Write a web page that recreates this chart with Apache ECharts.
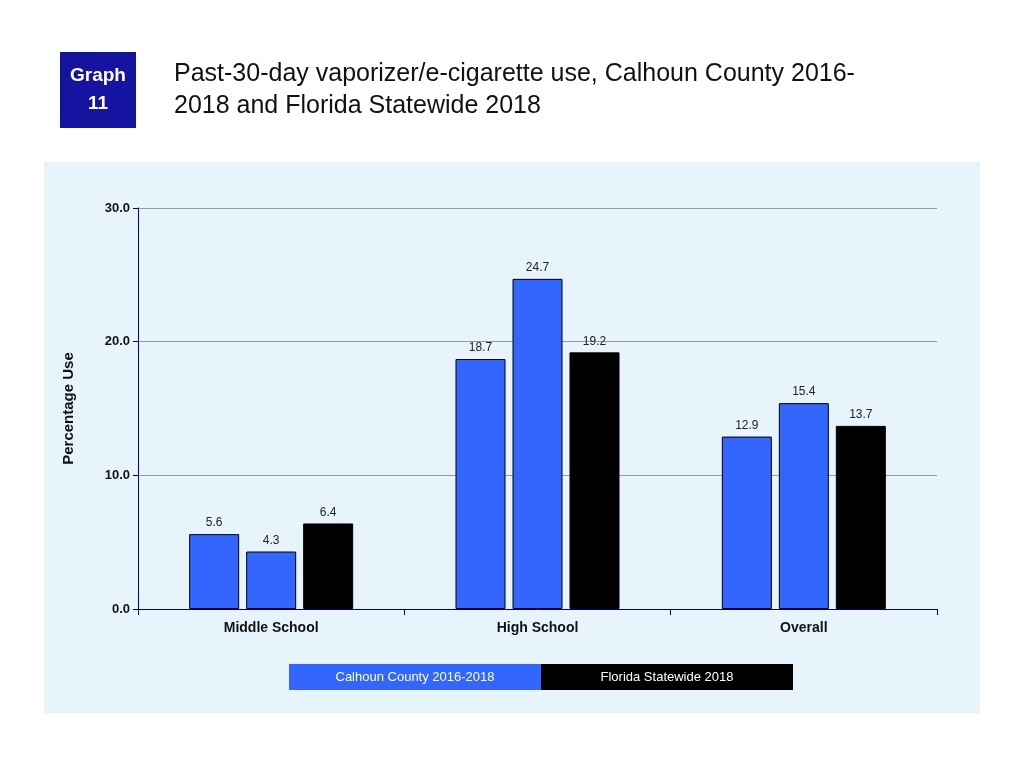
<!DOCTYPE html>
<html><head><meta charset="utf-8">
<script src="https://cdn.jsdelivr.net/npm/echarts@6/dist/echarts.min.js"></script>
<style>html,body{margin:0;padding:0;background:#fff}#c{width:1024px;height:768px}</style>
</head><body><div id="c"></div>
<script>
var categories = ['Middle School', 'High School', 'Overall'];
var calhoun2016 = [5.6, 18.7, 12.9];
var calhoun2018 = [4.3, 24.7, 15.4];
var florida2018 = [6.4, 19.2, 13.7];
var legendNames = ['Calhoun County 2016-2018', 'Florida Statewide 2018'];

var labelOpt = {show: true, position: 'top', color: '#222', fontSize: 12, fontFamily: 'Arial', formatter: function(p){ return p.value.toFixed(1); }};
function bar(name, data, color) {
    return {name: name, type: 'bar', data: data, barWidth: 50, barGap: '14%',
        itemStyle: {color: color, borderColor: '#000', borderWidth: 1}, label: labelOpt};
}

var chart = echarts.init(document.getElementById('c'));
chart.setOption({
    animation: false,
    graphic: [
        {type: 'rect', shape: {x: 44, y: 162, width: 936, height: 551}, style: {fill: '#e8f4fc'}, z: -10},
        {type: 'rect', shape: {x: 60, y: 52, width: 76, height: 76}, style: {fill: '#1414a0'}},
        {type: 'text', x: 98, y: 76, style: {text: 'Graph', fill: '#fff', font: 'bold 19px "Liberation Sans Narrow", Arial', align: 'center', verticalAlign: 'middle'}},
        {type: 'text', x: 98, y: 104, style: {text: '11', fill: '#fff', font: 'bold 19px "Liberation Sans Narrow", Arial', align: 'center', verticalAlign: 'middle'}},
        {type: 'text', x: 174, y: 58, style: {text: 'Past-30-day vaporizer/e-cigarette use, Calhoun County 2016-\n2018 and Florida Statewide 2018', fill: '#111', font: '25px Arial', lineHeight: 32}},
        {type: 'rect', shape: {x: 289, y: 664, width: 252, height: 26}, style: {fill: '#3366ff'}},
        {type: 'rect', shape: {x: 541, y: 664, width: 252, height: 26}, style: {fill: '#000'}},
        {type: 'text', x: 415, y: 677, style: {text: legendNames[0], fill: '#fff', font: '13px Arial', align: 'center', verticalAlign: 'middle'}},
        {type: 'text', x: 667, y: 677, style: {text: legendNames[1], fill: '#fff', font: '13px Arial', align: 'center', verticalAlign: 'middle'}}
    ],
    grid: {left: 138, top: 208, width: 799, height: 401},
    xAxis: {type: 'category', data: categories,
        axisLine: {lineStyle: {color: '#000080', width: 1}},
        axisTick: {show: true, length: 6, lineStyle: {color: '#000080'}},
        axisLabel: {color: '#111', fontWeight: 'bold', fontSize: 14, fontFamily: 'Arial', margin: 12}},
    yAxis: {type: 'value', min: 0, max: 30, interval: 10,
        name: 'Percentage Use', nameLocation: 'middle', nameGap: 62,
        nameTextStyle: {fontWeight: 'bold', fontSize: 15, fontFamily: 'Arial', color: '#111'},
        axisLine: {show: true, lineStyle: {color: '#000080'}},
        axisTick: {show: true, length: 5, lineStyle: {color: '#000080'}},
        axisLabel: {color: '#111', fontWeight: 'bold', fontSize: 13, fontFamily: 'Arial', formatter: function(v){ return v.toFixed(1); }},
        splitLine: {lineStyle: {color: '#999'}}},
    series: [
        bar('Calhoun 2016', calhoun2016, '#3366ff'),
        bar('Calhoun 2018', calhoun2018, '#3366ff'),
        bar('Florida 2018', florida2018, '#000000')
    ]
});
</script></body></html>
